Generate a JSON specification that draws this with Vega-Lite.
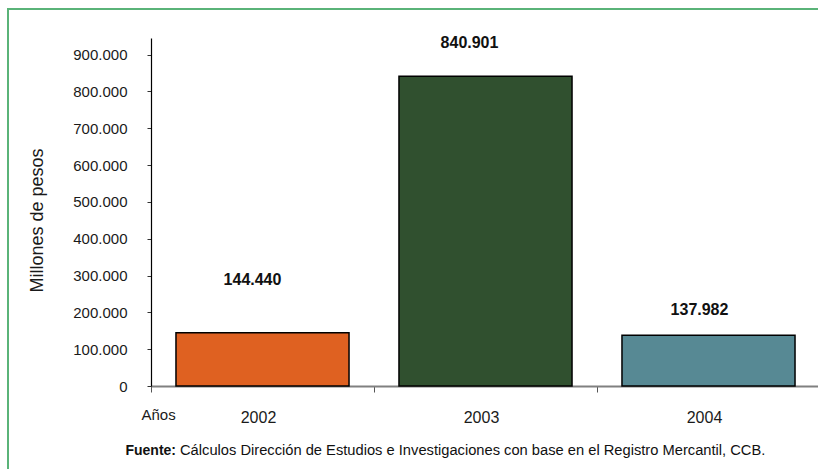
{
  "$schema": "https://vega.github.io/schema/vega-lite/v6.json",
  "description": "Millones de pesos por año, 2002-2004",
  "autosize": "none",
  "padding": {"left": 8, "top": 9, "right": -4, "bottom": -4},
  "width": 814,
  "height": 464,
  "config": {
    "font": "Liberation Sans, Arial, sans-serif",
    "locale": {
      "number": {"decimal": ",", "thousands": ".", "grouping": [3], "currency": ["$", ""]}
    },
    "view": {"stroke": "#5ab378", "strokeWidth": 2},
    "axis": {"grid": false, "labelColor": "#1a1a1a", "titleColor": "#1a1a1a", "titleFontWeight": "normal"}
  },
  "datasets": {
    "years": [
      {"year": "2002", "value": 144440},
      {"year": "2003", "value": 840901},
      {"year": "2004", "value": 137982}
    ],
    "source": [
      {"label": "Fuente:", "text": "Cálculos Dirección de Estudios e Investigaciones con base en el Registro Mercantil, CCB."}
    ]
  },
  "layer": [
    {
      "data": {"name": "years"},
      "encoding": {
        "x": {
          "field": "year",
          "type": "nominal",
          "sort": null,
          "scale": {"range": [143, 812], "paddingInner": 0.224, "paddingOuter": 0.112},
          "axis": {
            "title": "Años",
            "offset": -87,
            "labelAngle": 0,
            "labelFontSize": 16,
            "labelPadding": 17,
            "labelOffset": 107,
            "tickOffset": -111.5,
            "tickSize": 6,
            "tickColor": "#555555",
            "domainColor": "#808080",
            "domainWidth": 2,
            "titleFontSize": 15,
            "titleX": 133,
            "titleY": 28,
            "titleAlign": "left",
            "titleBaseline": "middle"
          }
        },
        "y": {
          "field": "value",
          "type": "quantitative",
          "scale": {"domain": [0, 945000], "range": [377, 29]},
          "axis": {
            "title": "Millones de pesos",
            "offset": -143,
            "values": [0, 100000, 200000, 300000, 400000, 500000, 600000, 700000, 800000, 900000],
            "format": ",d",
            "labelFontSize": 15,
            "labelPadding": 20,
            "tickSize": 4,
            "tickColor": "#333333",
            "domainColor": "#000000",
            "domainWidth": 1.2,
            "titleFontSize": 18,
            "titleAngle": 270,
            "titleX": -114,
            "titleY": 211,
            "titleAlign": "center",
            "titleBaseline": "middle"
          }
        }
      },
      "layer": [
        {
          "mark": {"type": "bar", "stroke": "#000000", "strokeWidth": 1.5},
          "encoding": {
            "color": {
              "field": "year",
              "type": "nominal",
              "scale": {"domain": ["2002", "2003", "2004"], "range": ["#df6121", "#30502f", "#578994"]},
              "legend": null
            }
          }
        },
        {
          "transform": [{"filter": "datum.year == '2002'"}],
          "mark": {"type": "text", "fontWeight": "bold", "fontSize": 16, "baseline": "middle", "dy": -53, "dx": -10, "color": "#111111"},
          "encoding": {"text": {"field": "value", "type": "quantitative", "format": ",d"}}
        },
        {
          "transform": [{"filter": "datum.year == '2003'"}],
          "mark": {"type": "text", "fontWeight": "bold", "fontSize": 16, "baseline": "middle", "dy": -33, "dx": -16, "color": "#111111"},
          "encoding": {"text": {"field": "value", "type": "quantitative", "format": ",d"}}
        },
        {
          "transform": [{"filter": "datum.year == '2004'"}],
          "mark": {"type": "text", "fontWeight": "bold", "fontSize": 16, "baseline": "middle", "dy": -25, "dx": -9, "color": "#111111"},
          "encoding": {"text": {"field": "value", "type": "quantitative", "format": ",d"}}
        }
      ]
    },
    {
      "data": {"name": "source"},
      "mark": {"type": "text", "fontWeight": "bold", "fontSize": 14, "align": "right", "baseline": "middle", "dx": -239, "dy": 210, "color": "#111111"},
      "encoding": {"text": {"field": "label"}}
    },
    {
      "data": {"name": "source"},
      "mark": {"type": "text", "fontSize": 14.7, "align": "left", "baseline": "middle", "dx": -235, "dy": 210, "color": "#111111"},
      "encoding": {"text": {"field": "text"}}
    }
  ]
}
